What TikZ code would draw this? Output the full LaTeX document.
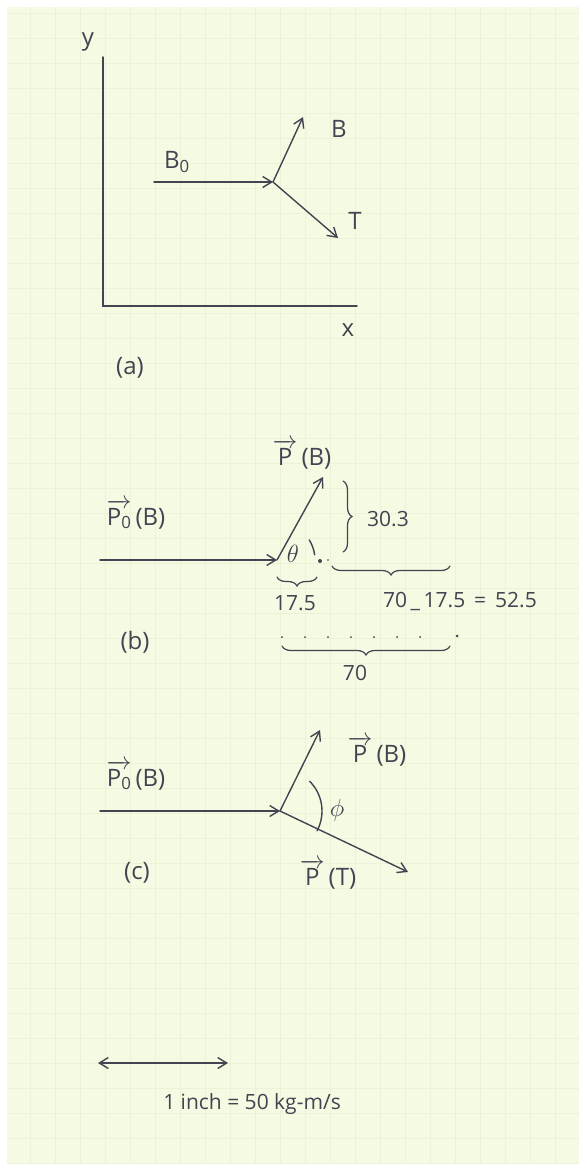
\documentclass[tikz,border=0pt]{standalone}
\usepackage{amsmath}
\usepackage{fontspec}
\setmainfont{Open Sans}
\usetikzlibrary{positioning,arrows.meta,decorations.pathreplacing}

\definecolor{paper}{RGB}{245,250,226}
\definecolor{gridc}{RGB}{233,243,216}
\definecolor{ink}{RGB}{66,68,82}

\newcommand{\arrowon}[1]{\ensuremath{\overrightarrow{\mbox{#1}}}}

\tikzset{
  pen/.style={draw=ink, line width=1.4pt, line cap=round},
  vec/.style={pen, -{Straight Barb[length=9pt,width=11pt,line width=1.4pt]}},
  hand/.style={text=ink, inner sep=0pt, font=\fontsize{24}{28}\selectfont},
  numhand/.style={hand, font=\fontsize{21}{24}\selectfont},
  curly/.style={pen, line width=1.2pt, decorate, decoration={brace, amplitude=9pt}},
  dotmark/.style={fill=ink},
}

\begin{document}
\begin{tikzpicture}[x=1pt, y=-1pt]
  \useasboundingbox (0,0) rectangle (579,1166);

  % Paper with faint squares
  \fill[paper] (7,7) rectangle (579,1163);
  \begin{scope}
    \clip (7,7) rectangle (579,1163);
    \foreach \gx in {5,30,...,580}
      \draw[gridc, line width=0.6pt] (\gx,7) -- (\gx,1163);
    \foreach \gy in {13,38,...,1163}
      \draw[gridc, line width=0.6pt] (7,\gy) -- (579,\gy);
  \end{scope}

  % (a) Axes
  \coordinate (ytop) at (103,57);
  \coordinate (orig) at (103,306);
  \coordinate (xend) at (357,306);
  \draw[pen] (ytop) -- (orig) -- (xend);
  \node[hand] (ylab) at (88,42) {y};
  \node[hand] (xlab) at (348,330) {x};

  % (a) Decay vertex
  \coordinate (Va) at (273,182);
  \coordinate (B0a) at (154,182);
  \coordinate (Ba) at (303,117);
  \coordinate (Ta) at (338,238);
  \draw[vec] (B0a) -- (Va);
  \draw[vec] (Va) -- (Ba);
  \draw[vec] (Va) -- (Ta);
  \node[hand] (b0lab) at (177,162) {B\textsubscript{0}};
  \node[hand] (blab) at (339,129) {B};
  \node[hand] (tlab) at (355,221) {T};
  \node[hand] (alab) at (130,368) {(a)};

  % (b) Momentum of B
  \coordinate (Vb) at (277,560);
  \coordinate (P0b) at (100,560);
  \coordinate (PBb) at (323,477);
  \draw[vec] (P0b) -- (Vb);
  \draw[vec] (Vb) -- (PBb);
  \node[hand] (p0blab) at (136,514) {\arrowon{P\textsubscript{0}}\,(B)};
  \node[hand] (pbblab) at (302,454) {\arrowon{P}\,(B)};
  \draw[pen] (Vb) ++(-8:38) arc[start angle=-8, end angle=-32, radius=38];
  \node[hand] (thlab) at (293,554) {$\theta$};
  \fill[dotmark] (320,561) circle (2pt);
  \fill[dotmark] (328,560) circle (0.9pt);

  % (b) Component braces
  \draw[curly] (343,481) -- (343,552);
  \node[numhand] (c303) at (388,519) {30.3};
  \draw[curly] (317,577) -- (277,577);
  \node[numhand] (c175) at (295,603) {17.5};
  \draw[curly] (450,566) -- (332,566);
  \node[numhand] (c525) at (460,601) {70\,\_\,17.5 \,=\, 52.5};
  \foreach \dx in {282,305,328,351,374,397,420}
    \fill[dotmark] (\dx,637) circle (1pt);
  \fill[dotmark] (457,636) circle (1.5pt);
  \draw[curly] (450,646) -- (282,646);
  \node[numhand] (c70) at (355,673) {70};
  \node[hand] (blabel) at (135,642) {(b)};

  % (c) Both products
  \coordinate (Vc) at (280,811);
  \coordinate (P0c) at (100,811);
  \coordinate (PBc) at (320,730);
  \coordinate (PTc) at (408,872);
  \draw[vec] (P0c) -- (Vc);
  \draw[vec] (Vc) -- (PBc);
  \draw[vec] (Vc) -- (PTc);
  \node[hand] (p0clab) at (136,775) {\arrowon{P\textsubscript{0}}\,(B)};
  \node[hand] (pbclab) at (377,751) {\arrowon{P}\,(B)};
  \node[hand] (ptclab) at (328,874) {\arrowon{P}\,(T)};
  \draw[pen] (Vc) ++(-45:42) arc[start angle=-45, end angle=28, radius=42];
  \node[hand] (philab) at (337,810) {$\phi$};
  \node[hand] (clabel) at (137,873) {(c)};

  % Scale
  \coordinate (sl) at (98,1063);
  \coordinate (sr) at (228,1063);
  \draw[pen, {Straight Barb[length=9pt,width=11pt,line width=1.4pt]}-{Straight Barb[length=9pt,width=11pt,line width=1.4pt]}] (sl) -- (sr);
  \node[numhand] (scalelab) at (252,1104) {1 inch = 50 kg-m/s};
\end{tikzpicture}
\end{document}
